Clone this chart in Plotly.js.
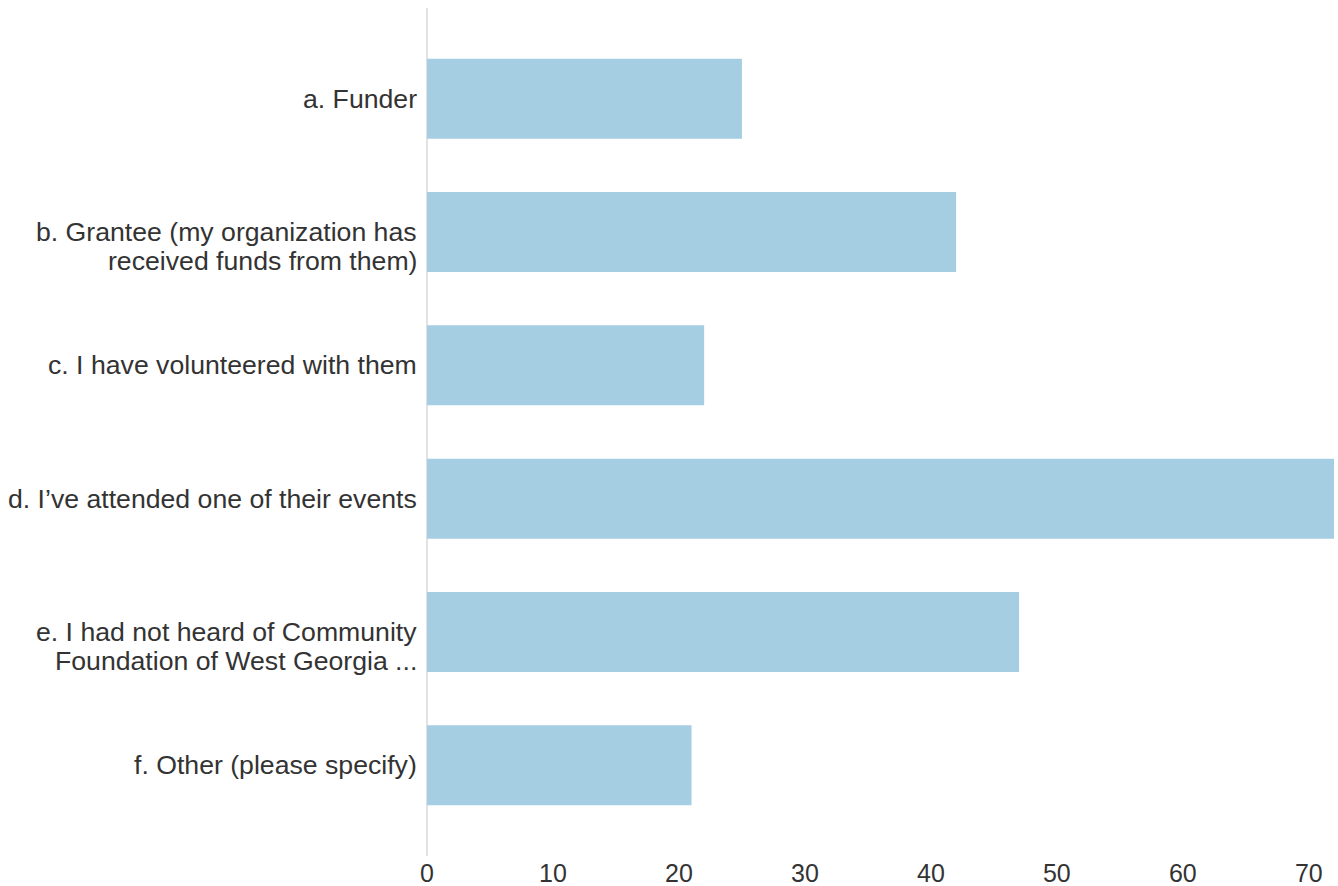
<!DOCTYPE html>
<html>
<head>
<meta charset="utf-8">
<script src="https://cdn.plot.ly/plotly-3.0.1.min.js"></script>
<style>html,body{margin:0;padding:0;background:#fff}#chart{width:1338px;height:886px}</style>
</head>
<body>
<div id="chart"></div>
<script>
const categories = [
  "a. Funder",
  "b. Grantee (my organization has received funds from them)",
  "c. I have volunteered with them",
  "d. I’ve attended one of their events",
  "e. I had not heard of Community Foundation of West Georgia ...",
  "f. Other (please specify)"
];
const labelLines = [
  ["a. Funder"],
  ["b. Grantee (my organization has", "received funds from them)"],
  ["c. I have volunteered with them"],
  ["d. I’ve attended one of their events"],
  ["e. I had not heard of Community", "Foundation of West Georgia ..."],
  ["f. Other (please specify)"]
];
const values = [25, 42, 22, 72, 47, 21];
const tickValues = [0, 10, 20, 30, 40, 50, 60, 70];

const trace = {
  type: 'bar',
  orientation: 'h',
  x: values,
  y: categories,
  marker: {color: '#a6cee3'},
  width: 0.6,
  hoverinfo: 'x+y'
};

const annotations = [];
labelLines.forEach((lines, ci) => {
  lines.forEach((ln, li) => {
    annotations.push({
      xref: 'paper', yref: 'y',
      x: 0, y: categories[ci],
      xanchor: 'right', yanchor: 'middle',
      xshift: -10, yshift: -li * 28.5,
      text: ln, showarrow: false,
      borderpad: 0, borderwidth: 0,
      font: {family: 'Liberation Sans, Arial, sans-serif', size: 26.65, color: '#333'}
    });
  });
});

const layout = {
  width: 1338,
  height: 886,
  margin: {l: 427, r: 4, t: 8, b: 30, pad: 0},
  paper_bgcolor: '#fff',
  plot_bgcolor: '#fff',
  showlegend: false,
  font: {family: 'Liberation Sans, Arial, sans-serif', size: 24, color: '#333'},
  xaxis: {
    range: [0, 72],
    tickvals: tickValues,
    ticktext: tickValues.map(String),
    showgrid: false,
    zeroline: true,
    zerolinecolor: '#e2e2e2',
    zerolinewidth: 2,
    showline: false,
    ticks: '',
    tickfont: {size: 25, color: '#333'}
  },
  yaxis: {
    type: 'category',
    categoryorder: 'array',
    categoryarray: categories,
    range: [5.68, -0.68],
    showgrid: false,
    zeroline: false,
    showline: false,
    ticks: '',
    showticklabels: false
  },
  annotations: annotations
};

Plotly.newPlot('chart', [trace], layout, {displayModeBar: false, staticPlot: true});
</script>
</body>
</html>
